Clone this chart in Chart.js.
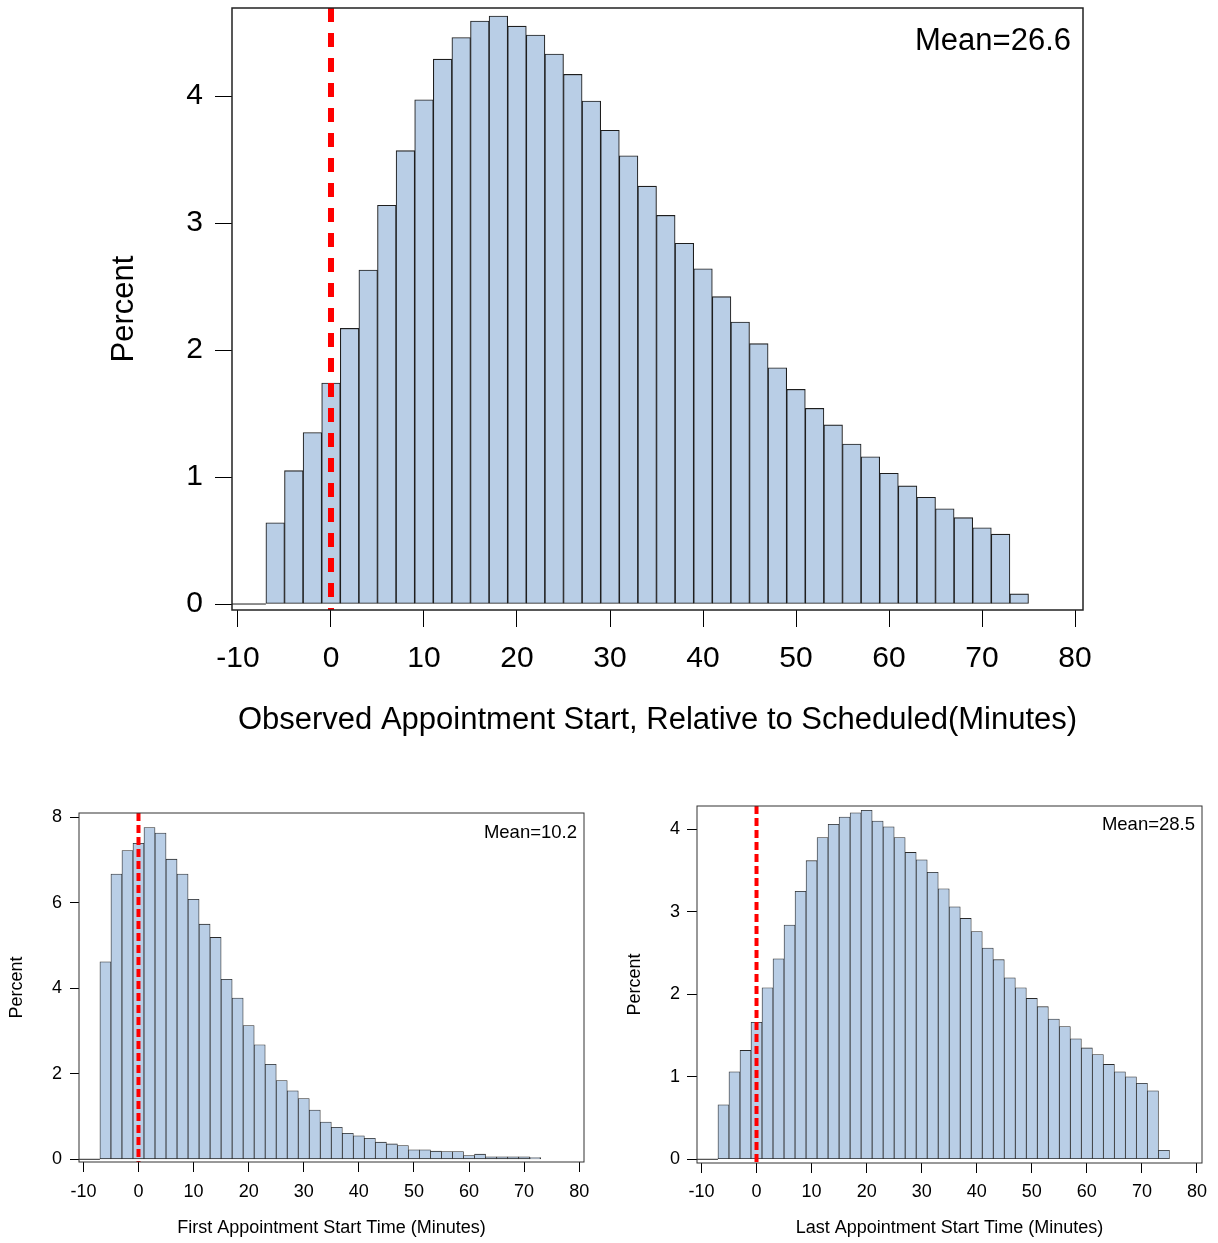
<!DOCTYPE html>
<html>
<head>
<meta charset="utf-8">
<script src="https://cdn.jsdelivr.net/npm/chart.js@4.4.1/dist/chart.umd.min.js"></script>
<style>
  html, body { margin: 0; padding: 0; background: #fff; }
  body { width: 1218px; height: 1243px; position: relative; overflow: hidden; }
  canvas { position: absolute; }
</style>
</head>
<body>
<canvas id="chartAll" width="1218" height="760" style="left:0;top:0"></canvas>
<canvas id="chartFirst" width="609" height="473" style="left:0;top:770px"></canvas>
<canvas id="chartLast" width="609" height="473" style="left:609px;top:770px"></canvas>
<script>
// 2-minute bins, value = bin midpoint (minutes)
const allBins = [-6, -4, -2, 0, 2, 4, 6, 8, 10, 12, 14, 16, 18, 20, 22, 24, 26, 28, 30, 32, 34, 36, 38, 40, 42, 44, 46, 48, 50, 52, 54, 56, 58, 60, 62, 64, 66, 68, 70, 72, 74]
const allPct = [0.64, 1.05, 1.35, 1.74, 2.17, 2.63, 3.14, 3.57, 3.97, 4.29, 4.46, 4.59, 4.63, 4.55, 4.48, 4.33, 4.17, 3.96, 3.73, 3.53, 3.29, 3.06, 2.84, 2.64, 2.42, 2.22, 2.05, 1.86, 1.69, 1.54, 1.41, 1.26, 1.16, 1.03, 0.93, 0.84, 0.75, 0.68, 0.60, 0.55, 0.08]

const firstBins = [-6, -4, -2, 0, 2, 4, 6, 8, 10, 12, 14, 16, 18, 20, 22, 24, 26, 28, 30, 32, 34, 36, 38, 40, 42, 44, 46, 48, 50, 52, 54, 56, 58, 60, 62, 64, 66, 68, 70, 72]
const firstPct = [4.62, 6.67, 7.22, 7.39, 7.76, 7.63, 7.02, 6.67, 6.08, 5.50, 5.19, 4.21, 3.77, 3.13, 2.68, 2.22, 1.84, 1.60, 1.42, 1.15, 0.87, 0.75, 0.61, 0.55, 0.49, 0.40, 0.36, 0.32, 0.22, 0.22, 0.19, 0.18, 0.18, 0.09, 0.12, 0.06, 0.06, 0.06, 0.06, 0.04]

const lastBins = [-6, -4, -2, 0, 2, 4, 6, 8, 10, 12, 14, 16, 18, 20, 22, 24, 26, 28, 30, 32, 34, 36, 38, 40, 42, 44, 46, 48, 50, 52, 54, 56, 58, 60, 62, 64, 66, 68, 70, 72, 74]
const lastPct = [0.66, 1.06, 1.32, 1.66, 2.08, 2.43, 2.84, 3.25, 3.62, 3.90, 4.06, 4.15, 4.20, 4.23, 4.10, 4.03, 3.90, 3.72, 3.63, 3.48, 3.28, 3.06, 2.92, 2.76, 2.56, 2.42, 2.20, 2.08, 1.95, 1.85, 1.70, 1.61, 1.46, 1.35, 1.27, 1.15, 1.06, 1.00, 0.92, 0.83, 0.11]

// empty bins left of the data (edges), drawn as a flat line
const emptyEdges = [-11, -7]

const xTicks = [-10, 0, 10, 20, 30, 40, 50, 60, 70, 80]
const allYTicks = [0, 1, 2, 3, 4]
const firstYTicks = [0, 2, 4, 6, 8]
const lastYTicks = [0, 1, 2, 3, 4]

const scheduled = 0   // reference line

Chart.defaults.font.family = '"Liberation Sans", Arial, Helvetica, sans-serif'
Chart.defaults.color = '#000'

const framePlugin = {
    id: 'frame',
    afterDraw(chart, args, opts) {
        const { ctx, chartArea: a } = chart
        ctx.save()
        ctx.strokeStyle = opts.color
        ctx.lineWidth = opts.width
        ctx.strokeRect(a.left, a.top, a.right - a.left, a.bottom - a.top)
        ctx.font = opts.font
        ctx.fillStyle = '#000'
        ctx.textAlign = 'right'
        ctx.textBaseline = 'alphabetic'
        ctx.fillText(opts.text, a.right - opts.dx, a.top + opts.dy)
        ctx.restore()
    }
}

const noEdgePadding = sc => {
    sc.paddingTop = 0
    sc.paddingBottom = 0
    sc.paddingLeft = 0
    sc.paddingRight = 0
}

const makeHist = (id, s) => {
    const ctx = document.getElementById(id).getContext('2d')
    return new Chart(ctx, {
        type: 'bar',
        data: {
            datasets: [
                {
                    type: 'line',
                    data: [{ x: scheduled, y: s.yMax }, { x: scheduled, y: s.yMin }],
                    borderColor: '#ff0000',
                    borderWidth: s.dashWidth,
                    borderDash: s.dash,
                    pointRadius: 0,
                    order: 0
                },
                {
                    type: 'bar',
                    data: s.bins.map((x, i) => ({ x, y: s.pct[i] })),
                    backgroundColor: '#b9cee6',
                    borderColor: s.barBorder,
                    borderWidth: s.barBorderWidth,
                    borderSkipped: false,
                    categoryPercentage: 1,
                    barPercentage: 1,
                    order: 2
                },
                {
                    type: 'line',
                    data: emptyEdges.map(x => ({ x, y: 0 })),
                    borderColor: s.barBorder,
                    borderWidth: 1,
                    pointRadius: 0,
                    order: 1
                }
            ]
        },
        options: {
            responsive: false,
            animation: false,
            events: [],
            layout: { padding: s.pad },
            plugins: {
                legend: { display: false },
                tooltip: { enabled: false },
                frame: s.frame
            },
            scales: {
                x: {
                    type: 'linear',
                    min: s.xMin,
                    max: s.xMax,
                    offset: false,
                    afterFit: sc => { sc.height = s.xh; noEdgePadding(sc) },
                    afterBuildTicks: sc => { sc.ticks = xTicks.map(v => ({ value: v })) },
                    grid: { display: true, offset: false, drawOnChartArea: false, tickLength: s.xtl, color: '#000', lineWidth: 1 },
                    border: { display: false },
                    ticks: { autoSkip: false, maxRotation: 0, padding: s.xtp, font: { size: s.fs }, callback: v => String(v) },
                    title: { display: true, text: s.xTitle, font: { size: s.tfs }, padding: { top: 0, bottom: s.xtb } }
                },
                y: {
                    type: 'linear',
                    min: s.yMin,
                    max: s.yMax,
                    afterFit: sc => { sc.width = s.yw; noEdgePadding(sc) },
                    afterBuildTicks: sc => { sc.ticks = s.yTicks.map(v => ({ value: v })) },
                    grid: { display: true, drawOnChartArea: false, tickLength: s.ytl, color: '#000', lineWidth: 1 },
                    border: { display: false },
                    ticks: { padding: s.ytp, font: { size: s.fs }, callback: v => String(v) },
                    title: { display: true, text: 'Percent', font: { size: s.tfs }, padding: { top: s.ytt, bottom: 0 } }
                }
            }
        },
        plugins: [framePlugin]
    })
}

makeHist('chartAll', {
    bins: allBins, pct: allPct, yTicks: allYTicks,
    xMin: -10.645, xMax: 80.86, yMin: -0.047, yMax: 4.693,
    pad: { top: 8, right: 135, left: 0, bottom: 0 },
    xh: 150, yw: 232, xtl: 17, ytl: 17, xtp: 14, ytp: 12, xtb: 21, ytt: 106,
    fs: 30, tfs: 31,
    xTitle: 'Observed Appointment Start, Relative to Scheduled(Minutes)',
    dashWidth: 6, dash: [14, 11],
    barBorder: '#1e1e1e', barBorderWidth: 1.1,
    frame: { color: '#222', width: 1.5, font: '31px "Liberation Sans", Arial, sans-serif', text: 'Mean=26.6', dx: 12, dy: 42 }
})

makeHist('chartFirst', {
    bins: firstBins, pct: firstPct, yTicks: firstYTicks,
    xMin: -10.8, xMax: 80.87, yMin: -0.063, yMax: 8.10,
    pad: { top: 43, right: 25, left: 0, bottom: 0 },
    xh: 81, yw: 79, xtl: 10, ytl: 9, xtp: 9, ytp: 8, xtb: 4, ytt: 6,
    fs: 18, tfs: 18,
    xTitle: 'First Appointment Start Time (Minutes)',
    dashWidth: 4, dash: [8, 4],
    barBorder: '#2a2a2a', barBorderWidth: 0.8,
    frame: { color: '#333', width: 1, font: '18.5px "Liberation Sans", Arial, sans-serif', text: 'Mean=10.2', dx: 7, dy: 25 }
})

makeHist('chartLast', {
    bins: lastBins, pct: lastPct, yTicks: lastYTicks,
    xMin: -10.81, xMax: 80.91, yMin: -0.045, yMax: 4.283,
    pad: { top: 36, right: 16, left: 0, bottom: 0 },
    xh: 80, yw: 88, xtl: 10, ytl: 10, xtp: 8, ytp: 7, xtb: 4, ytt: 15,
    fs: 18, tfs: 18,
    xTitle: 'Last Appointment Start Time (Minutes)',
    dashWidth: 4, dash: [8, 4],
    barBorder: '#2a2a2a', barBorderWidth: 0.8,
    frame: { color: '#333', width: 1, font: '18.5px "Liberation Sans", Arial, sans-serif', text: 'Mean=28.5', dx: 7, dy: 24 }
})
</script>
</body>
</html>
